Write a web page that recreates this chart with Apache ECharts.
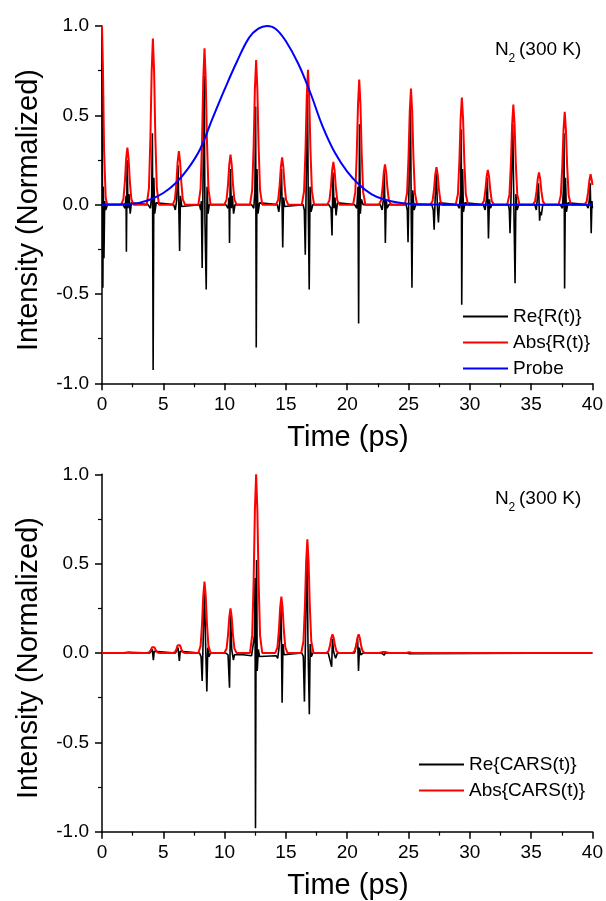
<!DOCTYPE html>
<html>
<head>
<meta charset="utf-8">
<script src="https://cdn.jsdelivr.net/npm/echarts@6/dist/echarts.min.js"></script>
<style>
html,body{margin:0;padding:0;background:#fff;}
#chart{width:606px;height:901px;}
</style>
</head>
<body>
<div id="chart"></div>
<script>
// ---------- DATA ----------
const yTickLabels = ['-1.0', '-0.5', '0.0', '0.5', '1.0'];
const xTickLabels = ['0', '5', '10', '15', '20', '25', '30', '35', '40'];

// Top panel: Re{R(t)}  [time ps, value]
const reR = [
  [0,0.95],[0.03,0.2],[0.07,-0.465],[0.11,0.1],[0.16,-0.3],[0.22,0.02],[0.3,-0.03],[0.45,0],
  [1.7,0],[1.88,-0.02],[1.96,0.05],[1.99,-0.264],[2.05,0.25],[2.12,-0.02],[2.2,0.06],[2.3,-0.05],[2.4,0.01],[2.5,0],
  [3.75,0],[3.95,-0.02],[4.05,0.05],[4.11,0.4],[4.17,-0.926],[4.23,0.15],[4.3,-0.05],[4.42,0.01],[4.55,0],
  [5.85,0],[5.98,-0.03],[6.08,0.02],[6.2,0.22],[6.33,-0.26],[6.4,0.05],[6.5,-0.01],[6.65,0],
  [7.95,0],[8.05,-0.03],[8.1,0.02],[8.17,-0.354],[8.25,0.2],[8.33,0.72],[8.4,-0.1],[8.5,-0.475],[8.57,0.1],[8.65,-0.05],[8.75,0],
  [10.1,0],[10.28,-0.02],[10.36,0.04],[10.4,-0.214],[10.47,0.2],[10.55,-0.02],[10.63,0.05],[10.73,-0.05],[10.85,0],
  [12.2,0],[12.38,-0.02],[12.47,0.08],[12.53,0.55],[12.58,-0.8],[12.64,0.2],[12.72,-0.05],[12.85,0.01],[12.95,0],
  [14.3,0],[14.42,-0.04],[14.52,0.02],[14.64,0.2],[14.74,-0.24],[14.81,0.04],[14.9,-0.01],[15.05,0],
  [16.4,0],[16.5,-0.03],[16.58,-0.28],[16.66,0.15],[16.76,0.62],[16.83,-0.05],[16.9,-0.475],[16.97,0.1],[17.05,-0.04],[17.2,0],
  [18.5,0],[18.68,-0.02],[18.76,-0.173],[18.84,0.18],[18.93,-0.02],[19.0,0.04],[19.09,-0.06],[19.2,0.01],[19.3,0],
  [20.6,0],[20.78,-0.02],[20.88,0.1],[20.93,-0.665],[21.0,0.45],[21.07,-0.05],[21.15,0.03],[21.3,0],
  [22.7,0],[22.85,-0.03],[22.95,0.03],[23.03,0.18],[23.11,-0.214],[23.18,0.03],[23.26,-0.02],[23.4,0],
  [24.8,0],[24.9,-0.03],[24.96,-0.21],[25.05,0.15],[25.16,0.55],[25.22,-0.05],[25.28,-0.465],[25.35,0.08],[25.45,-0.03],[25.6,0],
  [26.9,0],[27.02,-0.03],[27.09,-0.14],[27.18,0.05],[27.27,0.18],[27.36,-0.02],[27.44,-0.1],[27.52,0.01],[27.65,0],
  [28.97,0],[29.15,-0.02],[29.25,0.08],[29.3,0.42],[29.34,-0.56],[29.41,0.2],[29.48,-0.04],[29.6,0.01],[29.72,0],
  [31.1,0],[31.25,-0.03],[31.35,0.03],[31.43,0.15],[31.52,-0.19],[31.6,0.03],[31.68,-0.02],[31.8,0],
  [33.15,0],[33.22,-0.03],[33.28,-0.16],[33.38,0.1],[33.5,0.45],[33.6,-0.05],[33.69,-0.44],[33.76,0.06],[33.85,-0.03],[34.0,0],
  [35.3,0],[35.42,-0.03],[35.5,0.03],[35.6,0.12],[35.69,-0.09],[35.76,-0.04],[35.83,-0.06],[35.95,0],
  [37.37,0],[37.55,-0.02],[37.63,0.08],[37.68,0.4],[37.73,-0.47],[37.8,0.15],[37.88,-0.04],[38.0,0.01],[38.12,0],
  [39.5,0],[39.65,-0.02],[39.75,0.03],[39.82,0.12],[39.9,-0.16],[39.96,0.02],[40,-0.02]
];

// Top panel: Abs{R(t)}
const absR = [
  [0,1],[0.08,0.75],[0.17,0.3],[0.3,0.04],[0.42,0],
  [1.57,0],[1.75,0.032],[1.87,0.131],[1.97,0.256],[2.07,0.32],[2.17,0.256],[2.27,0.131],[2.39,0.032],[2.57,0],
  [3.65,0],[3.83,0.093],[3.95,0.381],[4.05,0.744],[4.15,0.93],[4.25,0.744],[4.35,0.381],[4.47,0.093],[4.65,0],
  [5.77,0],[5.95,0.03],[6.07,0.123],[6.17,0.24],[6.27,0.3],[6.37,0.24],[6.47,0.123],[6.59,0.03],[6.77,0],
  [7.86,0],[8.04,0.088],[8.16,0.359],[8.26,0.7],[8.36,0.875],[8.46,0.7],[8.56,0.359],[8.68,0.088],[8.86,0],
  [9.98,0],[10.16,0.028],[10.28,0.115],[10.38,0.224],[10.48,0.28],[10.58,0.224],[10.68,0.115],[10.8,0.028],[10.98,0],
  [12.07,0],[12.25,0.081],[12.37,0.332],[12.47,0.648],[12.57,0.81],[12.67,0.648],[12.77,0.332],[12.89,0.081],[13.07,0],
  [14.19,0],[14.37,0.027],[14.49,0.109],[14.59,0.212],[14.69,0.265],[14.79,0.212],[14.89,0.109],[15.01,0.027],[15.19,0],
  [16.3,0],[16.48,0.076],[16.6,0.31],[16.7,0.604],[16.8,0.755],[16.9,0.604],[17.0,0.31],[17.12,0.076],[17.3,0],
  [18.37,0],[18.55,0.024],[18.67,0.098],[18.77,0.192],[18.87,0.24],[18.97,0.192],[19.07,0.098],[19.19,0.024],[19.37,0],
  [20.48,0],[20.66,0.07],[20.78,0.287],[20.88,0.56],[20.98,0.7],[21.08,0.56],[21.18,0.287],[21.3,0.07],[21.48,0],
  [22.58,0],[22.76,0.023],[22.88,0.092],[22.98,0.18],[23.08,0.225],[23.18,0.18],[23.28,0.092],[23.4,0.023],[23.58,0],
  [24.7,0],[24.88,0.065],[25.0,0.267],[25.1,0.52],[25.2,0.65],[25.3,0.52],[25.4,0.267],[25.52,0.065],[25.7,0],
  [26.78,0],[26.96,0.021],[27.08,0.086],[27.18,0.168],[27.28,0.21],[27.38,0.168],[27.48,0.086],[27.6,0.021],[27.78,0],
  [28.85,0],[29.03,0.06],[29.15,0.246],[29.25,0.48],[29.35,0.6],[29.45,0.48],[29.55,0.246],[29.67,0.06],[29.85,0],
  [30.97,0],[31.15,0.02],[31.27,0.08],[31.37,0.156],[31.47,0.195],[31.57,0.156],[31.67,0.08],[31.79,0.02],[31.97,0],
  [33.05,0],[33.23,0.056],[33.35,0.23],[33.45,0.448],[33.55,0.56],[33.65,0.448],[33.75,0.23],[33.87,0.056],[34.05,0],
  [35.14,0],[35.32,0.018],[35.44,0.074],[35.54,0.144],[35.64,0.18],[35.74,0.144],[35.84,0.074],[35.96,0.018],[36.14,0],
  [37.24,0],[37.42,0.052],[37.54,0.213],[37.64,0.416],[37.74,0.52],[37.84,0.416],[37.94,0.213],[38.06,0.052],[38.24,0],
  [39.35,0],[39.53,0.017],[39.65,0.07],[39.75,0.136],[39.85,0.17],[39.95,0.136],[40,0.11]
];

// Top panel: Probe pulse (read at ~1 ps steps)
const probe = [
  [0,0],[1,0.001],[2,0.003],[3,0.01],[4,0.03],[5,0.065],[6,0.12],[7,0.2],[8,0.31],[9,0.48],
  [10,0.645],[11,0.8],[12,0.935],[12.75,0.985],[13.45,1.0],[14.15,0.985],[15,0.915],[16,0.79],[17,0.625],[18,0.437],
  [19,0.29],[20,0.185],[21,0.11],[22,0.058],[23,0.03],[24,0.013],[25,0.005],[26,0.002],[27,0.001],
  [28,0],[30,0],[32,0],[34,0],[36,0],[38,0],[40,0]
];

// Bottom panel: Re{CARS(t)}
const reCARS = [
  [0,0],[1.9,0],[2.05,-0.005],[2.15,0.004],[2.3,0],
  [3.9,0],[4.1,0.02],[4.19,-0.04],[4.26,0.01],[4.4,0],
  [6.0,0],[6.2,0.03],[6.31,-0.045],[6.38,0.01],[6.5,0],
  [7.95,0],[8.08,-0.02],[8.17,-0.157],[8.26,0.1],[8.36,0.35],[8.45,0.05],[8.55,-0.216],[8.63,0.03],[8.72,-0.02],[8.85,0],
  [10.1,0],[10.28,-0.01],[10.4,-0.194],[10.49,0.22],[10.58,0.02],[10.65,0.03],[10.72,-0.04],[10.8,-0.01],[10.95,-0.01],
  [11.5,-0.01],[12.2,-0.015],[12.35,-0.02],[12.44,0.1],[12.48,0.42],[12.52,-0.98],[12.57,0.2],[12.61,0.52],[12.66,-0.1],[12.75,0.02],[12.85,-0.02],[13.0,-0.015],[14.2,-0.015],
  [14.25,-0.02],[14.33,-0.03],[14.42,0.02],[14.52,0.1],[14.6,0.27],[14.69,-0.278],[14.76,0.05],[14.85,-0.01],[15.0,0],
  [16.3,0],[16.42,-0.02],[16.51,-0.272],[16.6,0.1],[16.72,0.6],[16.8,0.05],[16.91,-0.343],[16.98,0.05],[17.07,-0.02],[17.2,0],
  [18.45,0],[18.6,-0.01],[18.73,-0.077],[18.8,0.08],[18.88,0.01],[18.95,0.02],[19.05,-0.03],[19.2,0],
  [20.6,0],[20.75,-0.01],[20.85,0.08],[20.92,-0.1],[21.0,0.03],[21.1,-0.01],[21.3,0],
  [22.8,0],[22.95,0.008],[23.02,-0.012],[23.1,0],
  [24.9,0],[25.0,0.004],[25.08,-0.004],[25.2,0],[40,0]
];

// Bottom panel: Abs{CARS(t)}
const absCARS = [
  [0,0],[1.7,0],[2.07,0.003],[2.4,0],
  [3.68,0],[3.86,0.004],[3.98,0.016],[4.08,0.032],[4.18,0.04],[4.28,0.032],[4.38,0.016],[4.5,0.004],[4.68,0],
  [5.77,0],[5.95,0.005],[6.07,0.022],[6.17,0.043],[6.27,0.054],[6.37,0.043],[6.47,0.022],[6.59,0.005],[6.77,0],
  [7.86,0],[8.04,0.04],[8.16,0.164],[8.26,0.32],[8.36,0.4],[8.46,0.32],[8.56,0.164],[8.68,0.04],[8.86,0],
  [9.98,0],[10.16,0.025],[10.28,0.103],[10.38,0.2],[10.48,0.25],[10.58,0.2],[10.68,0.103],[10.8,0.025],[10.98,0],
  [12.07,0],[12.25,0.1],[12.37,0.41],[12.47,0.8],[12.57,1.0],[12.67,0.8],[12.77,0.41],[12.89,0.1],[13.07,0],
  [14.13,0],[14.31,0.032],[14.43,0.129],[14.53,0.252],[14.63,0.315],[14.73,0.252],[14.83,0.129],[14.95,0.032],[15.13,0],
  [16.25,0],[16.43,0.064],[16.55,0.261],[16.65,0.509],[16.75,0.636],[16.85,0.509],[16.95,0.261],[17.07,0.064],[17.25,0],
  [18.3,0],[18.48,0.011],[18.6,0.043],[18.7,0.084],[18.8,0.105],[18.9,0.084],[19.0,0.043],[19.12,0.011],[19.3,0],
  [20.43,0],[20.61,0.011],[20.73,0.043],[20.83,0.084],[20.93,0.105],[21.03,0.084],[21.13,0.043],[21.25,0.011],[21.43,0],
  [22.6,0],[22.85,0.005],[23.0,0.012],[23.15,0.005],[23.4,0],
  [24.8,0],[25.06,0.005],[25.3,0],[40,0]
];

// ---------- CHART ----------
const FONT = '"Liberation Sans", Arial, sans-serif';
const chart = echarts.init(document.getElementById('chart'), null, {renderer: 'canvas'});

function xAxisCfg(gi) {
  return {
    type: 'value', gridIndex: gi, min: 0, max: 40, interval: 5,
    axisLine: {show: true, onZero: false, lineStyle: {color: '#000', width: 1.5}},
    axisTick: {show: true, inside: false, length: 7, lineStyle: {color: '#000', width: 1.5}},
    minorTick: {show: true, splitNumber: 2, length: 4, lineStyle: {color: '#000', width: 1.2}},
    splitLine: {show: false},
    axisLabel: {
      margin: 12, color: '#000', fontSize: 19, fontFamily: FONT,
      formatter: function (v) { return xTickLabels[Math.round(v / 5)]; }
    }
  };
}
function yAxisCfg(gi) {
  return {
    type: 'value', gridIndex: gi, min: -1, max: 1, interval: 0.5,
    axisLine: {show: true, onZero: false, lineStyle: {color: '#000', width: 1.5}},
    axisTick: {show: true, inside: false, length: 7, lineStyle: {color: '#000', width: 1.5}},
    minorTick: {show: true, splitNumber: 2, length: 4, lineStyle: {color: '#000', width: 1.2}},
    splitLine: {show: false},
    axisLabel: {
      margin: 13, color: '#000', fontSize: 19, fontFamily: FONT,
      formatter: function (v) { return yTickLabels[Math.round((v + 1) / 0.5)]; }
    }
  };
}
function lineSeries(name, data, color, width, gi, smooth) {
  return {
    name: name, type: 'line', data: data, xAxisIndex: gi, yAxisIndex: gi,
    symbol: 'none', showSymbol: false, smooth: smooth || false, animation: false,
    lineStyle: {color: color, width: width}, itemStyle: {color: color},
    emphasis: {disabled: true}, silent: true, clip: true
  };
}
const legendText = {fontSize: 19, fontFamily: FONT, color: '#000'};

const option = {
  backgroundColor: '#fff',
  animation: false,
  grid: [
    {left: 102, top: 26, width: 491, height: 357.3, containLabel: false},
    {left: 102, top: 474.3, width: 491, height: 357.4, containLabel: false}
  ],
  xAxis: [xAxisCfg(0), xAxisCfg(1)],
  yAxis: [yAxisCfg(0), yAxisCfg(1)],
  legend: [
    {
      data: ['Re{R(t)}', 'Abs{R(t)}', 'Probe'], orient: 'vertical', left: 458, top: 302,
      icon: 'rect', itemWidth: 45, itemHeight: 2, itemGap: 7, selectedMode: false, textStyle: legendText
    },
    {
      data: ['Re{CARS(t)}', 'Abs{CARS(t)}'], orient: 'vertical', left: 414, top: 750,
      icon: 'rect', itemWidth: 45, itemHeight: 2, itemGap: 7, selectedMode: false, textStyle: legendText
    }
  ],
  series: [
    lineSeries('Re{R(t)}', reR, '#000000', 1.6, 0),
    lineSeries('Abs{R(t)}', absR, '#ff0000', 2, 0),
    lineSeries('Probe', probe, '#0000ff', 2, 0, 0.4),
    lineSeries('Re{CARS(t)}', reCARS, '#000000', 1.6, 1),
    lineSeries('Abs{CARS(t)}', absCARS, '#ff0000', 2, 1)
  ],
  graphic: [
    {type: 'text', x: 28.5, y: 210, rotation: Math.PI / 2,
     style: {text: 'Intensity (Normalized)', font: '29px ' + FONT, fill: '#000', textAlign: 'center', textVerticalAlign: 'middle'}},
    {type: 'text', x: 28.5, y: 658, rotation: Math.PI / 2,
     style: {text: 'Intensity (Normalized)', font: '29px ' + FONT, fill: '#000', textAlign: 'center', textVerticalAlign: 'middle'}},
    {type: 'text', x: 348, y: 437.5,
     style: {text: 'Time (ps)', font: '29px ' + FONT, fill: '#000', textAlign: 'center', textVerticalAlign: 'middle'}},
    {type: 'text', x: 348, y: 886,
     style: {text: 'Time (ps)', font: '29px ' + FONT, fill: '#000', textAlign: 'center', textVerticalAlign: 'middle'}},
    {type: 'text', x: 495, y: 50,
     style: {text: 'N', font: '19px ' + FONT, fill: '#000', textAlign: 'left', textVerticalAlign: 'middle'}},
    {type: 'text', x: 508.5, y: 59,
     style: {text: '2', font: '12px ' + FONT, fill: '#000', textAlign: 'left', textVerticalAlign: 'middle'}},
    {type: 'text', x: 519, y: 50,
     style: {text: '(300 K)', font: '19px ' + FONT, fill: '#000', textAlign: 'left', textVerticalAlign: 'middle'}},
    {type: 'text', x: 495, y: 498.3,
     style: {text: 'N', font: '19px ' + FONT, fill: '#000', textAlign: 'left', textVerticalAlign: 'middle'}},
    {type: 'text', x: 508.5, y: 507.3,
     style: {text: '2', font: '12px ' + FONT, fill: '#000', textAlign: 'left', textVerticalAlign: 'middle'}},
    {type: 'text', x: 519, y: 498.3,
     style: {text: '(300 K)', font: '19px ' + FONT, fill: '#000', textAlign: 'left', textVerticalAlign: 'middle'}}
  ]
};
chart.setOption(option);
</script>
</body>
</html>
